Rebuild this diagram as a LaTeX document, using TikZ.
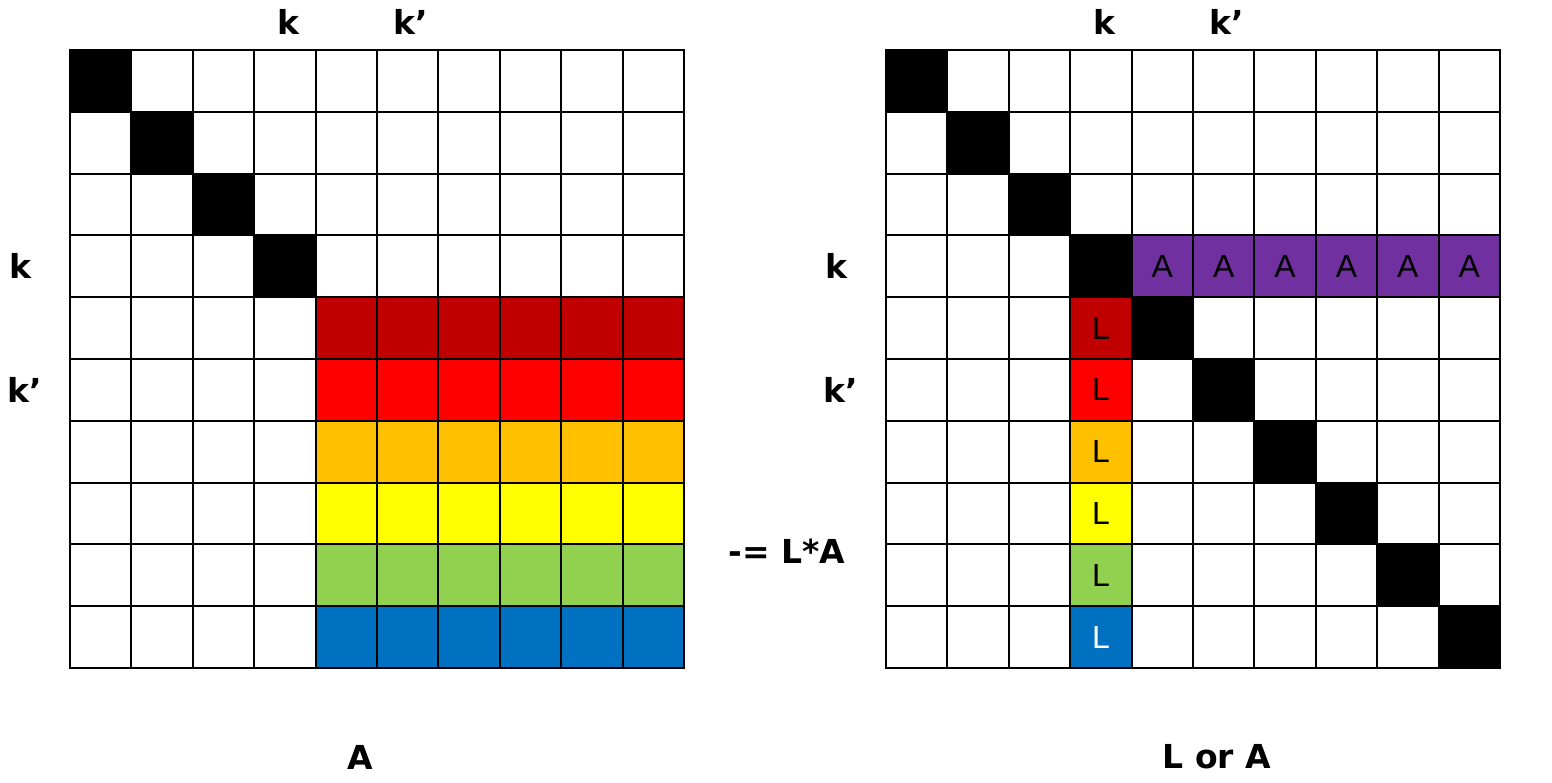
\documentclass[tikz,border=0pt]{standalone}
\usepackage{fontspec}
\setmainfont{Liberation Sans}
\newfontfamily\hfont{DejaVu Sans}
\usetikzlibrary{positioning}
\definecolor{dred}{HTML}{C00000}
\definecolor{bred}{HTML}{FF0000}
\definecolor{orng}{HTML}{FFC000}
\definecolor{yelw}{HTML}{FFFF00}
\definecolor{lgreen}{HTML}{92D050}
\definecolor{mblue}{HTML}{0070C0}
\definecolor{purp}{HTML}{7030A0}

\begin{document}
\begin{tikzpicture}[x=0.5pt,y=-0.5pt,
  cell/.style={draw=black, line width=1pt, minimum width=30.7pt, minimum height=30.9pt,
               inner sep=0pt, outer sep=0pt, font=\fontsize{16}{16}\selectfont},
  hdr/.style={font=\hfont\bfseries\fontsize{16.5}{16.5}\selectfont, inner sep=0pt}
]
  \useasboundingbox (0,0) rectangle (1552,782);
  % left matrix
  \foreach \r/\rc in {0/white,1/white,2/white,3/white,4/dred,5/bred,6/orng,7/yelw,8/lgreen,9/mblue}{
    \foreach \c in {0,...,9}{
      \ifnum\c<4 \def\f{white}\else \def\f{\rc}\fi
      \ifnum\r<4 \ifnum\r=\c \def\f{black}\fi\fi
      \node[cell,fill=\f] (a\r\c) at ({70+61.4*(\c+0.5)},{50+61.8*(\r+0.5)}) {};
    }
  }
  % right matrix
  \foreach \r/\rc/\tc in {0/white/black,1/white/black,2/white/black,3/white/black,4/dred/black,
                          5/bred/black,6/orng/black,7/yelw/black,8/lgreen/black,9/mblue/white}{
    \foreach \c in {0,...,9}{
      \def\f{white}\def\t{}
      \ifnum\r=\c \def\f{black}\fi
      \ifnum\r=3 \ifnum\c>3 \def\f{purp}\def\t{A}\fi\fi
      \ifnum\c=3 \ifnum\r>3 \def\f{\rc}\def\t{L}\fi\fi
      \node[cell,fill=\f,text=\tc] (b\r\c) at ({886+61.4*(\c+0.5)},{50+61.8*(\r+0.5)}) {\t};
    }
  }
  % labels
  \node[hdr] (ak) at (288,22) {k};
  \node[hdr] (akp) at (411,22) {k’};
  \node[hdr] (ak2) at (20,266) {k};
  \node[hdr] (akp2) at (25,390) {k’};
  \node[hdr] (bk) at (1104,22) {k};
  \node[hdr] (bkp) at (1227,22) {k’};
  \node[hdr] (bk2) at (836,266) {k};
  \node[hdr] (bkp2) at (841,390) {k’};
  \node[hdr] (op) at (787,551) {-= L*A};
  \node[hdr] (capa) at (360,757) {A};
  \node[hdr] (capb) at (1217,757) {L or A};
\end{tikzpicture}
\end{document}
